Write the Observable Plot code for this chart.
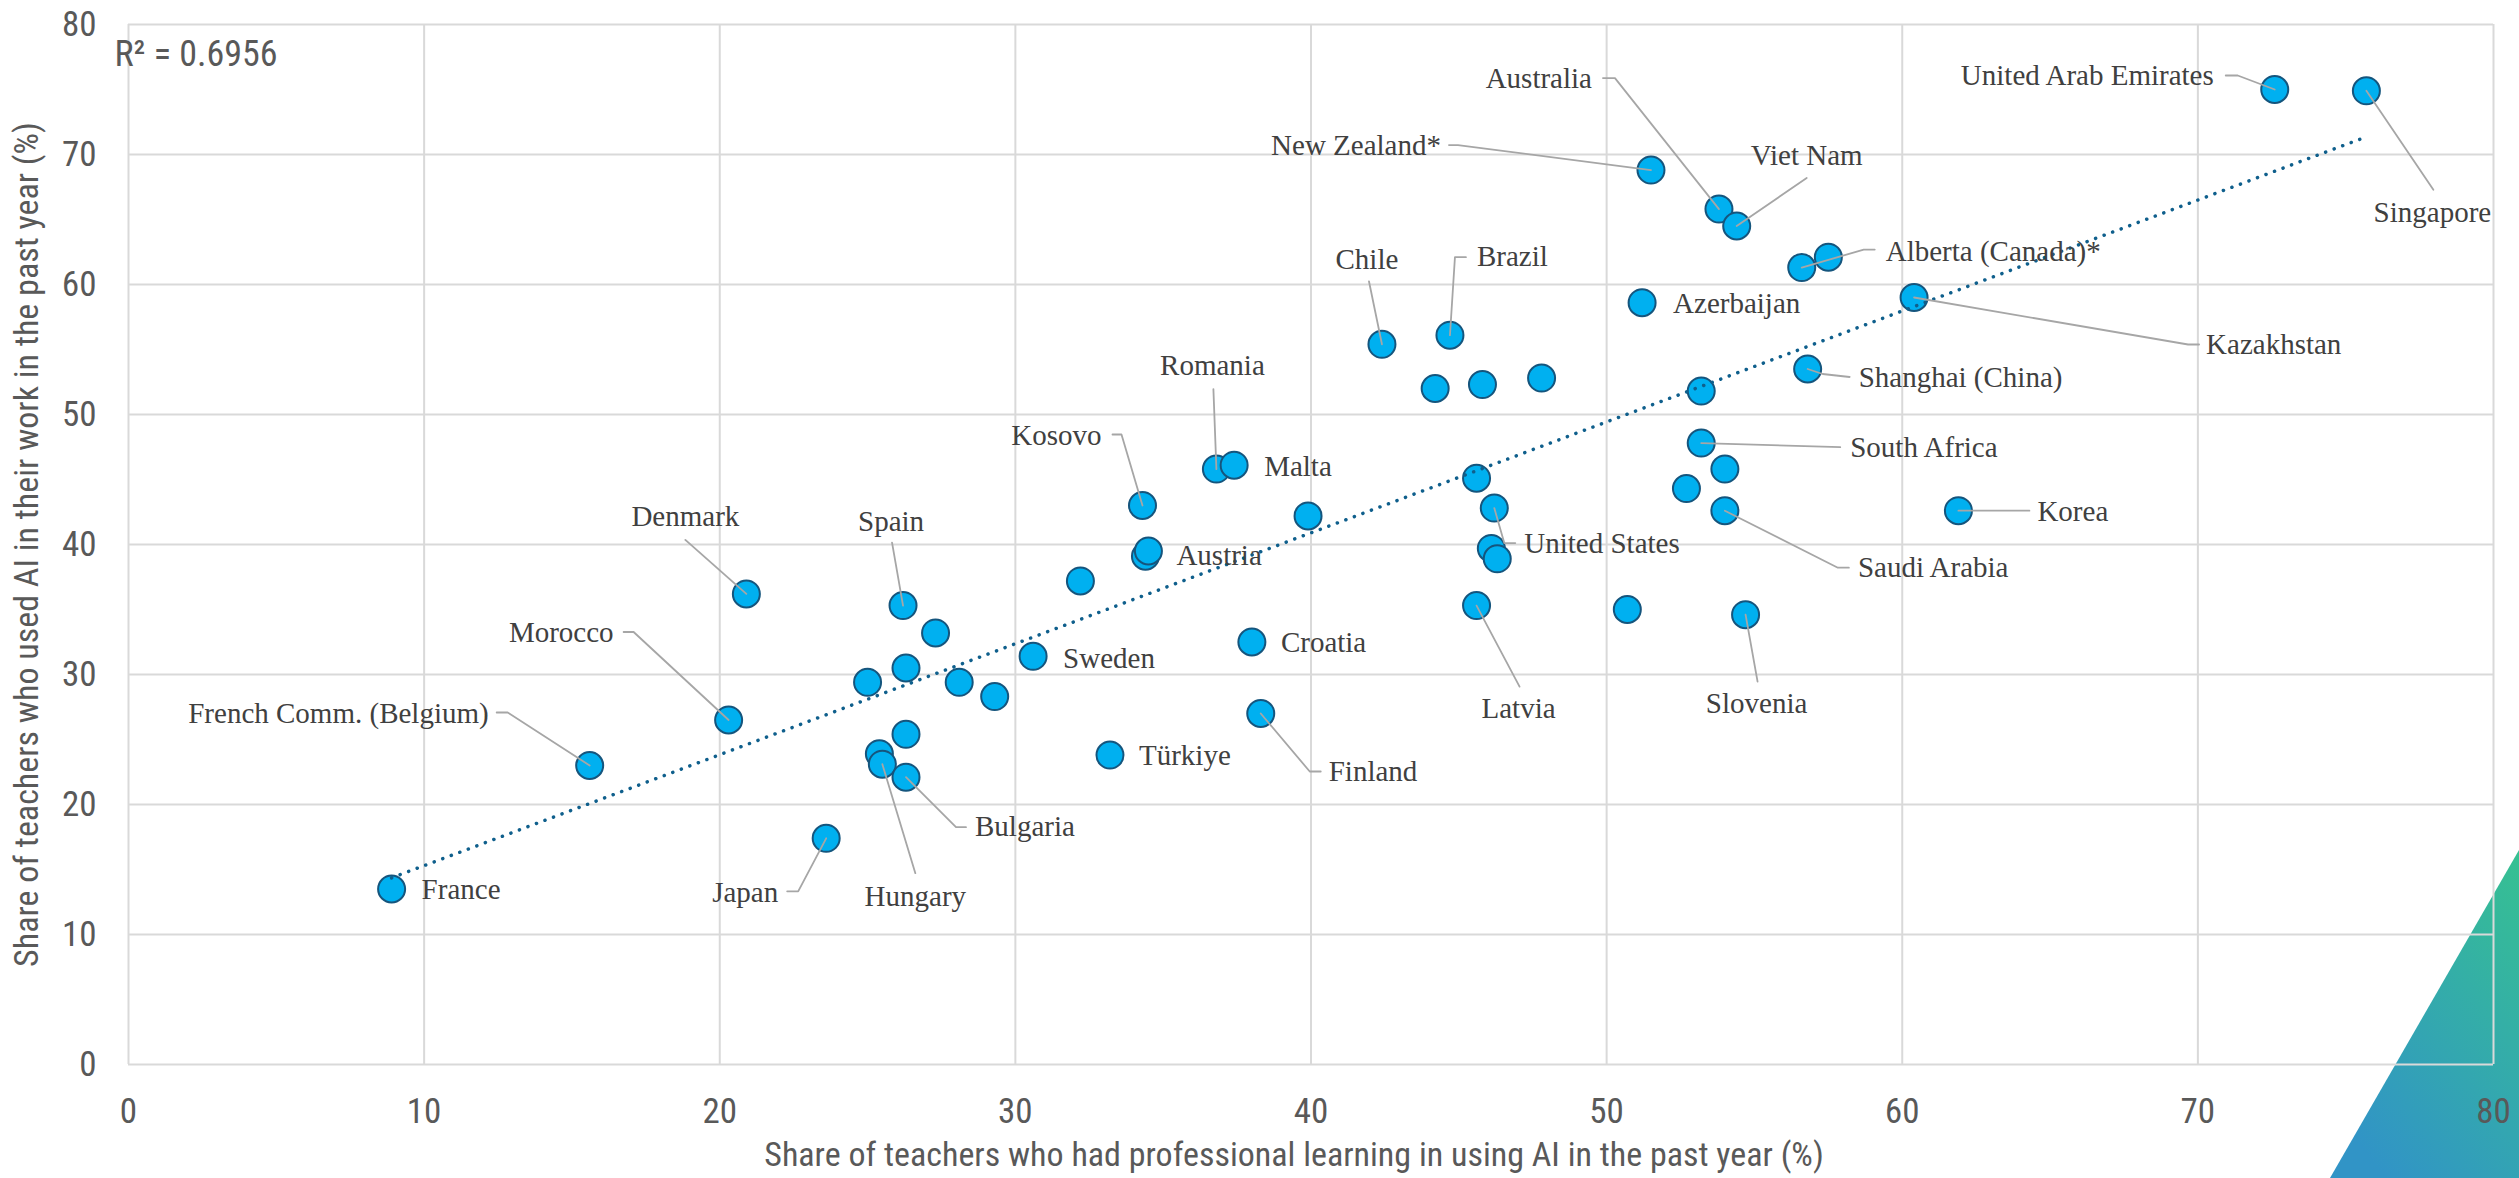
<!DOCTYPE html>
<html><head><meta charset="utf-8">
<script src="https://cdn.jsdelivr.net/npm/d3@7"></script>
<script src="https://cdn.jsdelivr.net/npm/@observablehq/plot@0.6"></script>
<style>
html,body{margin:0;padding:0;background:#fff;}
#wrap{position:relative;width:2519px;height:1178px;overflow:hidden;}
#deco,#chart{position:absolute;left:0;top:0;}
</style></head><body>
<div id="wrap">
<svg id="deco" width="2519" height="1178">
  <defs><linearGradient id="tri" x1="1" y1="0" x2="0.3" y2="1">
    <stop offset="0" stop-color="#36c191"/><stop offset="1" stop-color="#3194c6"/>
  </linearGradient></defs>
  <polygon points="2519,850 2330,1178 2519,1178" fill="url(#tri)"/>
</svg>
<div id="chart"></div>
</div>
<script>
// ---- data ----
const names = ["France","French Comm. (Belgium)","Morocco","Denmark","Japan","","","Hungary","Spain","","","Bulgaria","","","","Sweden","","Türkiye","Kosovo","","Austria","Romania","Malta","Croatia","Finland","","Chile","","Brazil","","Latvia","","","United States","","","","Azerbaijan","New Zealand*","","South Africa","","Australia","","Saudi Arabia","Viet Nam","Slovenia","Alberta (Canada)*","Shanghai (China)","","Kazakhstan","Korea","United Arab Emirates","Singapore"];
const training = [8.9,15.6,20.3,20.9,23.6,25.0,25.4,25.5,26.2,26.3,26.3,26.3,27.3,28.1,29.3,30.6,32.2,33.2,34.3,34.4,34.5,36.8,37.4,38.0,38.3,39.9,42.4,44.2,44.7,45.6,45.6,45.8,46.1,46.2,46.3,47.8,50.7,51.2,51.5,52.7,53.2,53.2,53.8,54.0,54.0,54.4,54.7,56.6,56.8,57.5,60.4,61.9,72.6,75.7];
const aiUse    = [13.5,23.0,26.5,36.2,17.4,29.4,23.9,23.1,35.3,30.5,25.4,22.1,33.2,29.4,28.3,31.4,37.2,23.8,43.0,39.1,39.5,45.8,46.1,32.5,27.0,42.2,55.4,52.0,56.1,45.1,35.3,52.3,39.7,42.8,38.9,52.8,35.0,58.6,68.8,44.3,47.8,51.8,65.8,45.8,42.6,64.5,34.6,61.3,53.5,62.1,59.0,42.6,75.0,74.9];
const xTicks = [0,10,20,30,40,50,60,70,80];
const yTicks = [0,10,20,30,40,50,60,70,80];
const r2Text = "R² = 0.6956";
const xTitle = "Share of teachers who had professional learning in using AI in the past year (%)";
const yTitle = "Share of teachers who used AI in their work in the past year (%)";

// ---- label layout (pixel offsets from the point) ----
const labelLayout = [
  {name:"France", anchor:"start", dx:30, dy:1, leader:[]},
  {name:"French Comm. (Belgium)", anchor:"end", dx:-101, dy:-52, leader:[[-82,-53],[-93,-53]]},
  {name:"Morocco", anchor:"end", dx:-115, dy:-87, leader:[[-95,-88],[-105,-88]]},
  {name:"Denmark", anchor:"middle", dx:-61, dy:-77, leader:[[-61,-54]]},
  {name:"Japan", anchor:"end", dx:-48, dy:54, leader:[[-28,53],[-39,53]]},
  {name:"Hungary", anchor:"middle", dx:33, dy:133, leader:[[33,109]]},
  {name:"Spain", anchor:"middle", dx:-12, dy:-84, leader:[[-11,-63]]},
  {name:"Bulgaria", anchor:"start", dx:69, dy:50, leader:[[50,50],[60,50]]},
  {name:"Sweden", anchor:"start", dx:30, dy:2, leader:[]},
  {name:"Türkiye", anchor:"start", dx:29, dy:1, leader:[]},
  {name:"Kosovo", anchor:"end", dx:-41, dy:-70, leader:[[-21,-71],[-30,-71]]},
  {name:"Austria", anchor:"start", dx:28, dy:5, leader:[]},
  {name:"Romania", anchor:"middle", dx:-4, dy:-103, leader:[[-3,-80]]},
  {name:"Malta", anchor:"start", dx:30, dy:2, leader:[]},
  {name:"Croatia", anchor:"start", dx:29, dy:1, leader:[]},
  {name:"Finland", anchor:"start", dx:68, dy:58, leader:[[49,58],[60,58]]},
  {name:"Chile", anchor:"middle", dx:-15, dy:-85, leader:[[-13,-63]]},
  {name:"Brazil", anchor:"start", dx:27, dy:-78, leader:[[5,-78],[16,-78]]},
  {name:"Latvia", anchor:"middle", dx:42, dy:103, leader:[[43,81]]},
  {name:"United States", anchor:"start", dx:30, dy:36, leader:[[10,35],[21,35]]},
  {name:"Azerbaijan", anchor:"start", dx:31, dy:1, leader:[]},
  {name:"New Zealand*", anchor:"end", dx:-210, dy:-24, leader:[[-193,-25],[-202,-25]]},
  {name:"South Africa", anchor:"start", dx:149, dy:5, leader:[[139,4]]},
  {name:"Australia", anchor:"end", dx:-127, dy:-130, leader:[[-104,-131],[-116,-131]]},
  {name:"Saudi Arabia", anchor:"start", dx:133, dy:57, leader:[[113,57],[124,57]]},
  {name:"Viet Nam", anchor:"middle", dx:70, dy:-70, leader:[[70,-48]]},
  {name:"Slovenia", anchor:"middle", dx:11, dy:89, leader:[[12,67]]},
  {name:"Alberta (Canada)*", anchor:"start", dx:84, dy:-16, leader:[[62,-18],[73,-18]]},
  {name:"Shanghai (China)", anchor:"start", dx:51, dy:9, leader:[[15,5],[42,8]]},
  {name:"Kazakhstan", anchor:"start", dx:292, dy:47, leader:[[274,47],[285,47]]},
  {name:"Korea", anchor:"start", dx:79, dy:1, leader:[[71,0]]},
  {name:"United Arab Emirates", anchor:"end", dx:-61, dy:-14, leader:[[-37,-14],[-49,-14]]},
  {name:"Singapore", anchor:"middle", dx:66, dy:122, leader:[[67,99]]}
];

const W = 2519, H = 1178, ML = 128, MR = 26, MT = 24, MB = 114;
const NARROW = "'Liberation Sans Narrow','Arial Narrow','Roboto Condensed','DejaVu Sans Condensed',sans-serif";
const SERIF = "'Liberation Serif','Times New Roman',serif";

const points = names.map((n, i) => ({name: n, x: training[i], y: aiUse[i]}));
const byName = new Map(points.filter(p => p.name).map(p => [p.name, p]));

const sx = Plot.scale({x: {domain: [0, 80], range: [ML, W - MR]}});
const sy = Plot.scale({y: {domain: [0, 80], range: [H - MB, MT]}});
const shiftX = (v, d) => sx.invert(sx.apply(v) + d);
const shiftY = (v, d) => sy.invert(sy.apply(v) + d);

const labels = labelLayout.map(l => {
  const p = byName.get(l.name);
  return {text: l.name, anchor: l.anchor, x: shiftX(p.x, l.dx), y: shiftY(p.y, l.dy)};
});
const leaders = [];
labelLayout.forEach(l => {
  if (!l.leader.length) return;
  const p = byName.get(l.name);
  leaders.push({name: l.name, x: p.x, y: p.y});
  l.leader.forEach(([a, b]) => leaders.push({name: l.name, x: shiftX(p.x, a), y: shiftY(p.y, b)}));
});

const labelMark = anchor => Plot.text(labels.filter(d => d.anchor === anchor), {
  x: "x", y: "y", text: "text", textAnchor: anchor, lineAnchor: "middle",
  fontFamily: SERIF, fontSize: 29, fill: "#404040"
});

const chart = Plot.plot({
  width: W, height: H,
  marginLeft: ML, marginRight: MR, marginTop: MT, marginBottom: MB,
  style: {background: "transparent", fontFamily: NARROW, fontSize: "35px", color: "#595959"},
  x: {domain: [0, 80], ticks: xTicks, tickSize: 0, tickPadding: 34, label: null},
  y: {domain: [0, 80], ticks: yTicks, tickSize: 0, tickPadding: 32, label: null},
  marks: [
    Plot.ruleX(xTicks, {stroke: "#d9d9d9", strokeWidth: 2}),
    Plot.ruleY(yTicks, {stroke: "#d9d9d9", strokeWidth: 2}),
    Plot.dot(points, {x: "x", y: "y", r: 13.5, fill: "#00b0f0", stroke: "#15557d", strokeWidth: 2}),
    Plot.linearRegressionY(points, {x: "x", y: "y", ci: 0, stroke: "#0f5f8c", strokeWidth: 3.5,
      strokeDasharray: "0.1 9", strokeLinecap: "round"}),
    Plot.line(leaders, {x: "x", y: "y", z: "name", stroke: "#a6a6a6", strokeWidth: 1.8}),
    labelMark("start"), labelMark("middle"), labelMark("end"),
    Plot.text([r2Text], {text: d => d, frameAnchor: "top-left", textAnchor: "start", lineAnchor: "middle",
      dx: -14, dy: 30, fontFamily: NARROW, fontSize: 36, fill: "#595959"}),
    Plot.text([xTitle], {text: d => d, frameAnchor: "bottom", textAnchor: "middle", lineAnchor: "middle",
      dx: -17, dy: 91, fontFamily: NARROW, fontSize: 34, fill: "#595959"}),
    Plot.text([yTitle], {text: d => d, frameAnchor: "left", textAnchor: "middle", lineAnchor: "middle", rotate: -90,
      dx: -101, fontFamily: NARROW, fontSize: 34, fill: "#595959"})
  ]
});
document.getElementById("chart").appendChild(chart);
</script>
</body></html>
